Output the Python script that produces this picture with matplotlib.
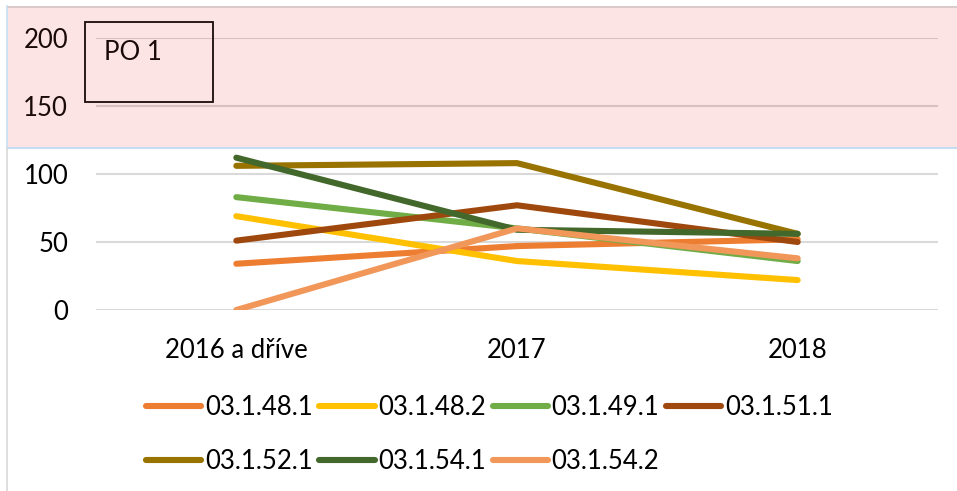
import matplotlib
matplotlib.use("Agg")
import matplotlib.pyplot as plt
from matplotlib.patches import Rectangle
from matplotlib.lines import Line2D

plt.rcParams["font.family"] = ["Lato", "DejaVu Sans"]

categories = ["2016 a dříve", "2017", "2018"]
series_names = ["03.1.48.1", "03.1.48.2", "03.1.49.1", "03.1.51.1",
                "03.1.52.1", "03.1.54.1", "03.1.54.2"]
s_48_1 = [34, 47, 52]
s_48_2 = [69, 36, 22]
s_49_1 = [83, 60, 36]
s_51_1 = [51, 77, 50]
s_52_1 = [106, 108, 56]
s_54_1 = [112, 59, 56]
s_54_2 = [0, 60, 38]
series_values = [s_48_1, s_48_2, s_49_1, s_51_1, s_52_1, s_54_1, s_54_2]
colors = ["#ED7D31", "#FFC000", "#70AD47", "#9E480E",
          "#997300", "#43682B", "#F1975A"]
y_ticks = [0, 50, 100, 150, 200]

W, H = 957, 491
fig = plt.figure(figsize=(W / 100, H / 100), dpi=100)

# pink band behind the chart
band = Rectangle((8 / W, 1 - 148 / H), 1 - 8 / W, (148 - 6) / H,
                 transform=fig.transFigure, facecolor="#FDE4E4",
                 edgecolor="none", zorder=-2)
fig.patches.append(band)

ax = fig.add_axes([96 / W, 1 - 310 / H, (938 - 96) / W, (310 - 38) / H])
ax.set_facecolor("none")

xs = range(len(categories))
for name, vals, col in zip(series_names, series_values, colors):
    ax.plot(xs, vals, color=col, linewidth=4.4, solid_capstyle="round",
            solid_joinstyle="round", label=name, zorder=3)

ax.set_xlim(-0.5, len(categories) - 0.5)
ax.set_ylim(0, 200)
ax.set_yticks(y_ticks)
ax.set_xticks(list(xs))
ax.set_xticklabels(categories)
ax.tick_params(axis="both", length=0, labelsize=18.5, colors="#000000")
ax.tick_params(axis="y", pad=20)
ax.tick_params(axis="x", pad=20)
ax.grid(axis="y", color="#D9D9D9", linewidth=1.5)
ax.set_axisbelow(True)
for tick, val in zip(ax.yaxis.get_major_ticks(), y_ticks):
    if val >= 150:
        tick.gridline.set_color("#D8C0C0")
        tick.label1.set_color("#1A0A0A")
for sp in ax.spines.values():
    sp.set_visible(False)

# band borders
fig.add_artist(Line2D([8 / W, 1], [1 - 148 / H] * 2, color="#C5DDF0",
                      linewidth=1.5, zorder=6))
fig.add_artist(Line2D([8 / W, 1], [1 - 6.5 / H] * 2, color="#D6C4C4",
                      linewidth=1.2, zorder=6))
fig.add_artist(Line2D([7 / W] * 2, [1 - 148 / H, 1 - 6 / H], color="#C5DDF0",
                      linewidth=1.2, zorder=6))
fig.add_artist(Line2D([7 / W] * 2, [0, 1 - 148 / H], color="#D9D9D9",
                      linewidth=1.2, zorder=6))

# PO 1 box
box = Rectangle((85 / W, 1 - 102 / H), (213 - 85) / W, (102 - 22) / H,
                transform=fig.transFigure, facecolor="none",
                edgecolor="#1A0A0A", linewidth=1.3, zorder=7)
fig.patches.append(box)
fig.text(104 / W, 1 - 52 / H, "PO 1", fontsize=18.5, va="center", ha="left",
         color="#1A0A0A", zorder=8)

# legend: row-wise order
handles, labels = ax.get_legend_handles_labels()
order = [0, 4, 1, 5, 2, 6, 3]
fig.legend([handles[i] for i in order], [labels[i] for i in order],
           loc="center", bbox_to_anchor=(489.5 / W, 1 - 434.5 / H), ncol=4,
           frameon=False, fontsize=18.5, handlelength=2.15, handletextpad=0.15,
           columnspacing=0.25, labelspacing=1.1, borderpad=0)

fig.savefig("out.png", dpi=100)
